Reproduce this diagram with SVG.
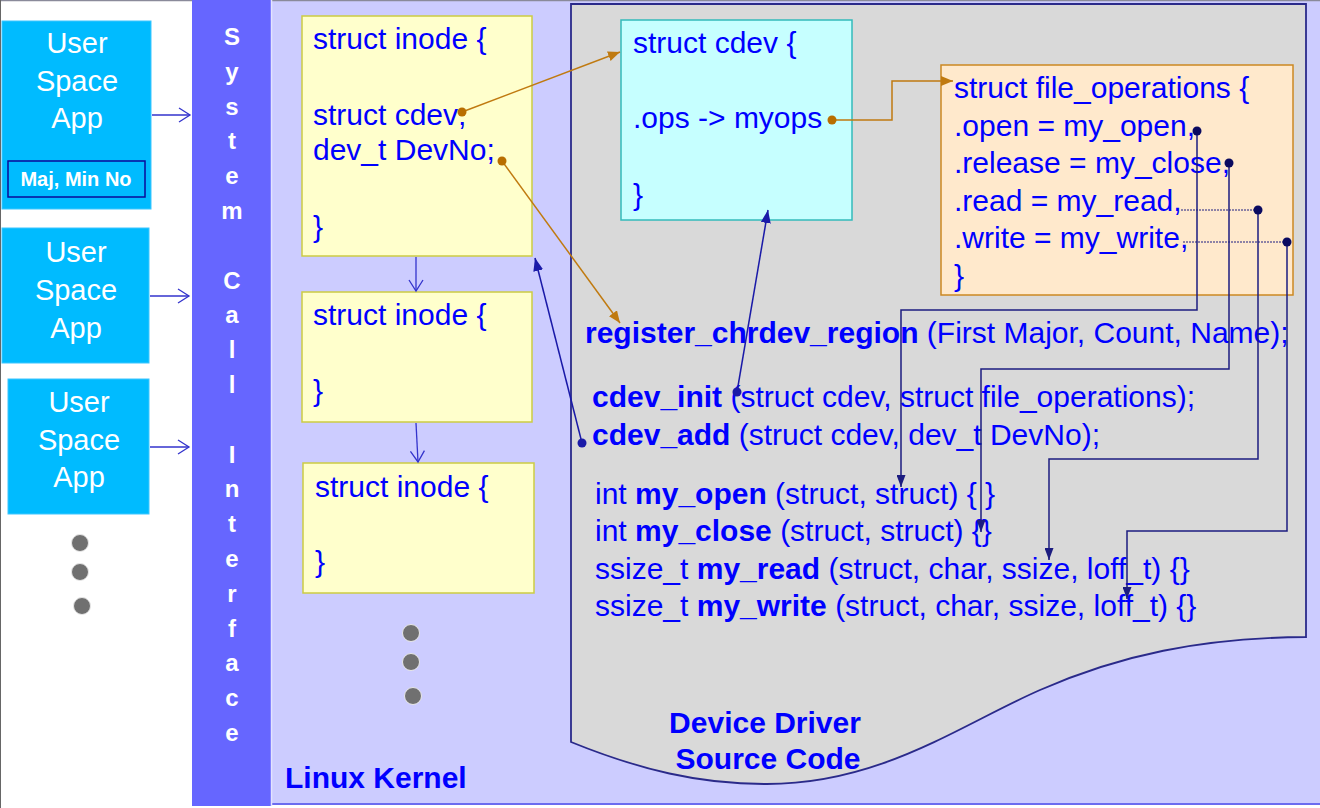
<svg xmlns="http://www.w3.org/2000/svg" width="1320" height="808" viewBox="0 0 1320 808">
<style>
text{font-family:"Liberation Sans",Arial,sans-serif}
.usr{fill:#00bbff;stroke:#3cc6ff;stroke-width:1}
.ut{fill:#ffffff;font-size:29px;text-anchor:middle}
.sc{fill:#ffffff;font-size:24px;font-weight:bold;text-anchor:middle}
.ino{fill:#ffffcc;stroke:#cccc44;stroke-width:1.5}
.code{fill:#0000ff;font-size:30px}
.b{font-weight:bold}
.dot{fill:#707070;stroke:#e8e8e8;stroke-width:1}
.ol{fill:none;stroke:#c07a10;stroke-width:1.5}
.nl{fill:none;stroke:#1c1c80;stroke-width:1.5}
.bl{fill:none;stroke:#1a1aa8;stroke-width:1.5}
.ul{fill:none;stroke:#3333cc;stroke-width:1.3}
.dl{fill:none;stroke:#1c1c80;stroke-width:1;stroke-dasharray:2 1}
</style>
<defs>
<marker id="ao" viewBox="0 0 12 10" refX="12" refY="5" markerWidth="12" markerHeight="10" orient="auto" markerUnits="userSpaceOnUse"><path d="M0,0 L12,5 L0,10 z" fill="#c07a10"/></marker>
<marker id="an" viewBox="0 0 12 9" refX="12" refY="4.5" markerWidth="12" markerHeight="9" orient="auto" markerUnits="userSpaceOnUse"><path d="M0,0 L12,4.5 L0,9 z" fill="#1c1c80"/></marker>
<marker id="ab" viewBox="0 0 13 10" refX="13" refY="5" markerWidth="13" markerHeight="10" orient="auto" markerUnits="userSpaceOnUse"><path d="M0,0 L13,5 L0,10 z" fill="#1a1aa8"/></marker>
<marker id="av" viewBox="0 0 12 14" refX="11" refY="7" markerWidth="12" markerHeight="14" orient="auto" markerUnits="userSpaceOnUse" overflow="visible"><path d="M0,0 L11,7 L0,14" fill="none" stroke="#3333cc" stroke-width="1.3"/></marker>
</defs>

<!-- backgrounds -->
<rect x="0" y="0" width="1320" height="808" fill="#ffffff"/>
<rect id="kernel" x="271" y="0" width="1049" height="804" fill="#ccccff"/>
<line x1="271" y1="804" x2="1320" y2="804" stroke="#6c6cf0" stroke-width="2"/>
<line x1="0" y1="0.5" x2="1320" y2="0.5" stroke="#8a8a9a" stroke-width="1.5"/>
<line x1="0.5" y1="0" x2="0.5" y2="808" stroke="#666666" stroke-width="1"/>

<g id="syscall">
<rect x="192" y="0" width="79" height="806" fill="#6666ff"/>
<line x1="271.5" y1="0" x2="271.5" y2="806" stroke="#e2e2ff" stroke-width="1.5"/>
<text class="sc" x="232" y="45"><tspan x="232" dy="0">S</tspan><tspan x="232" dy="34.8">y</tspan><tspan x="232" dy="34.8">s</tspan><tspan x="232" dy="34.8">t</tspan><tspan x="232" dy="34.8">e</tspan><tspan x="232" dy="34.8">m</tspan><tspan x="232" dy="69.6">C</tspan><tspan x="232" dy="34.8">a</tspan><tspan x="232" dy="34.8">l</tspan><tspan x="232" dy="34.8">l</tspan><tspan x="232" dy="69.6">I</tspan><tspan x="232" dy="34.8">n</tspan><tspan x="232" dy="34.8">t</tspan><tspan x="232" dy="34.8">e</tspan><tspan x="232" dy="34.8">r</tspan><tspan x="232" dy="34.8">f</tspan><tspan x="232" dy="34.8">a</tspan><tspan x="232" dy="34.8">c</tspan><tspan x="232" dy="34.8">e</tspan></text>
</g>

<g id="app1">
<rect class="usr" x="2" y="21" width="149" height="188"/>
<text class="ut" x="77" y="53">User</text>
<text class="ut" x="77" y="91">Space</text>
<text class="ut" x="77" y="128">App</text>
<rect x="8" y="161" width="137" height="36" fill="#00bbff" stroke="#0a0a99" stroke-width="1.5"/>
<text x="76" y="186" fill="#ffffff" font-size="20" font-weight="bold" text-anchor="middle">Maj, Min No</text>
</g>
<g id="app2">
<rect class="usr" x="2" y="228" width="147" height="135"/>
<text class="ut" x="76" y="262">User</text>
<text class="ut" x="76" y="300">Space</text>
<text class="ut" x="76" y="338">App</text>
</g>
<g id="app3">
<rect class="usr" x="8" y="379" width="141" height="135"/>
<text class="ut" x="79" y="412">User</text>
<text class="ut" x="79" y="450">Space</text>
<text class="ut" x="79" y="487">App</text>
</g>
<g id="appdots">
<circle class="dot" cx="80" cy="543" r="8.5"/>
<circle class="dot" cx="80" cy="572" r="8.5"/>
<circle class="dot" cx="82" cy="606" r="8.5"/>
</g>

<!-- device driver document shape -->
<g id="driver">
<path d="M571,4 H1306 V637 C1200,638 1120,655 1040,690 C960,725 880,785 764,784 C700,784 640,770 571,742 Z" fill="#d9d9d9" stroke="#2a2a8a" stroke-width="1.8"/>
<text x="765" y="733" fill="#0000ff" font-size="30" font-weight="bold" text-anchor="middle">Device Driver</text>
<text x="768" y="769" fill="#0000ff" font-size="30" font-weight="bold" text-anchor="middle">Source Code</text>
</g>

<g id="inode1">
<rect class="ino" x="302" y="16" width="230" height="240"/>
<text class="code" x="313" y="49">struct inode {</text>
<text class="code" x="313" y="125">struct cdev;</text>
<text class="code" x="313" y="160">dev_t DevNo;</text>
<text class="code" x="313" y="237">}</text>
</g>
<g id="inode2">
<rect class="ino" x="302" y="292" width="230" height="130"/>
<text class="code" x="313" y="325">struct inode {</text>
<text class="code" x="313" y="401">}</text>
</g>
<g id="inode3">
<rect class="ino" x="303" y="463" width="231" height="130"/>
<text class="code" x="315" y="497">struct inode {</text>
<text class="code" x="315" y="572">}</text>
</g>
<g id="kerneldots">
<circle class="dot" cx="411" cy="633" r="8.5"/>
<circle class="dot" cx="411" cy="662" r="8.5"/>
<circle class="dot" cx="413" cy="696" r="8.5"/>
</g>
<text id="kernel-label" x="285" y="788" fill="#0000ff" font-size="30" font-weight="bold">Linux Kernel</text>

<g id="cdev">
<rect x="621" y="20" width="231" height="200" fill="#c6ffff" stroke="#33bbbb" stroke-width="1.5"/>
<text class="code" x="633" y="53">struct cdev {</text>
<text class="code" x="633" y="128">.ops -&gt; myops</text>
<text class="code" x="633" y="205">}</text>
</g>

<g id="fileops">
<rect x="941" y="65" width="352" height="230" fill="#ffe9cc" stroke="#cc8822" stroke-width="1.5"/>
<text class="code" x="954" y="98">struct file_operations {</text>
<text class="code" x="954" y="136">.open = my_open,</text>
<text class="code" x="954" y="173">.release = my_close,</text>
<text class="code" x="954" y="211">.read = my_read,</text>
<text class="code" x="954" y="248">.write = my_write,</text>
<text class="code" x="954" y="286">}</text>
</g>

<g id="functions">
<text class="code" x="585" y="343"><tspan class="b">register_chrdev_region</tspan> (First Major, Count, Name);</text>
<text class="code" x="592" y="407"><tspan class="b">cdev_init</tspan> (struct cdev, struct file_operations);</text>
<text class="code" x="592" y="445"><tspan class="b">cdev_add</tspan> (struct cdev, dev_t DevNo);</text>
<text class="code" x="595" y="504">int <tspan class="b">my_open</tspan> (struct, struct) { }</text>
<text class="code" x="595" y="541">int <tspan class="b">my_close</tspan> (struct, struct) {}</text>
<text class="code" x="595" y="579">ssize_t <tspan class="b">my_read</tspan> (struct, char, ssize, loff_t) {}</text>
<text class="code" x="595" y="616">ssize_t <tspan class="b">my_write</tspan> (struct, char, ssize, loff_t) {}</text>
</g>

<g id="connectors">
<!-- user apps to system call interface -->
<line class="ul" x1="152" y1="115" x2="190" y2="115" marker-end="url(#av)"/>
<line class="ul" x1="150" y1="296" x2="189" y2="296" marker-end="url(#av)"/>
<line class="ul" x1="150" y1="447" x2="189" y2="447" marker-end="url(#av)"/>
<!-- inode chain -->
<line class="ul" x1="416" y1="257" x2="416" y2="291" marker-end="url(#av)"/>
<line class="ul" x1="416" y1="423" x2="418" y2="462" marker-end="url(#av)"/>
<!-- orange -->
<line class="ol" x1="462" y1="112" x2="620" y2="52" marker-end="url(#ao)"/>
<circle cx="462" cy="112" r="4.5" fill="#b86e00"/>
<line class="ol" x1="502" y1="161" x2="620" y2="323" marker-end="url(#ao)"/>
<circle cx="502" cy="161" r="4.5" fill="#b86e00"/>
<path class="ol" d="M832,120 H892 V81 H953" marker-end="url(#ao)"/>
<circle cx="832" cy="120" r="4.5" fill="#b86e00"/>
<!-- blue -->
<line class="bl" x1="737" y1="392" x2="768" y2="210" marker-end="url(#ab)"/>
<circle cx="737" cy="392" r="4.5" fill="#1a1aa8"/>
<line class="bl" x1="582" y1="443" x2="535" y2="258" marker-end="url(#ab)"/>
<circle cx="582" cy="443" r="4.5" fill="#1a1aa8"/>
<!-- file ops to functions -->
<line class="dl" x1="1181" y1="210" x2="1258" y2="210"/>
<line class="dl" x1="1183" y1="242" x2="1287" y2="242"/>
<path class="nl" d="M1197,131 V310 H901 V487" marker-end="url(#an)"/>
<path class="nl" d="M1229,163 V369 H981 V532" marker-end="url(#an)"/>
<path class="nl" d="M1258,210 V459 H1049 V560" marker-end="url(#an)"/>
<path class="nl" d="M1287,242 V531 H1127 V599" marker-end="url(#an)"/>
<circle cx="1197" cy="131" r="4.5" fill="#0a0a60"/>
<circle cx="1229" cy="163" r="4.5" fill="#0a0a60"/>
<circle cx="1258" cy="210" r="4.5" fill="#0a0a60"/>
<circle cx="1287" cy="242" r="4.5" fill="#0a0a60"/>
</g>
</svg>
